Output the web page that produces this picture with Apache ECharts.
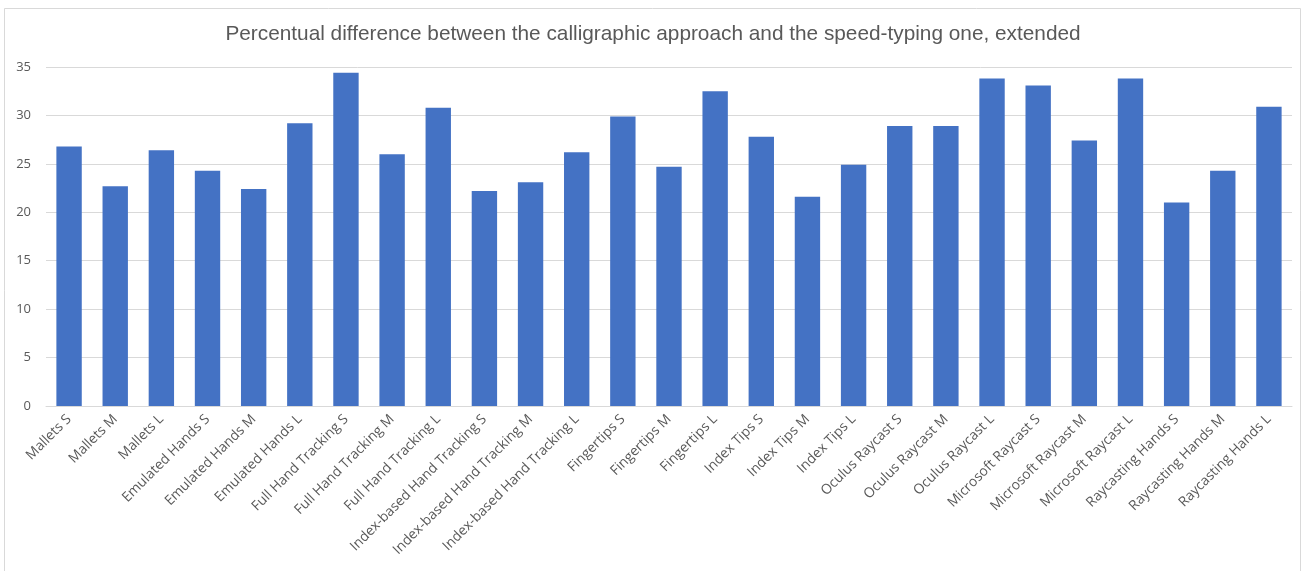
<!DOCTYPE html>
<html>
<head>
<meta charset="utf-8">
<script src="https://cdn.jsdelivr.net/npm/echarts@6/dist/echarts.min.js"></script>
<style>
  html, body { margin: 0; padding: 0; background: #fff; }
  #chart { width: 1306px; height: 571px; }
</style>
</head>
<body>
<div id="chart"></div>
<script>
// Interaction techniques with S / M / L target sizes
const categories = [
  'Mallets S', 'Mallets M', 'Mallets L',
  'Emulated Hands S', 'Emulated Hands M', 'Emulated Hands L',
  'Full Hand Tracking S', 'Full Hand Tracking M', 'Full Hand Tracking L',
  'Index-based Hand Tracking S', 'Index-based Hand Tracking M', 'Index-based Hand Tracking L',
  'Fingertips S', 'Fingertips M', 'Fingertips L',
  'Index Tips S', 'Index Tips M', 'Index Tips L',
  'Oculus Raycast S', 'Oculus Raycast M', 'Oculus Raycast L',
  'Microsoft Raycast S', 'Microsoft Raycast M', 'Microsoft Raycast L',
  'Raycasting Hands S', 'Raycasting Hands M', 'Raycasting Hands L'
];

// Percentual difference (calligraphic vs speed-typing)
const differences = [
  26.8, 22.7, 26.4,
  24.3, 22.4, 29.2,
  34.4, 26.0, 30.8,
  22.2, 23.1, 26.2,
  29.9, 24.7, 32.5,
  27.8, 21.6, 24.9,
  28.9, 28.9, 33.8,
  33.1, 27.4, 33.8,
  21.0, 24.3, 30.9
];

const yTicks = { min: 0, max: 35, interval: 5 };

const chart = echarts.init(document.getElementById('chart'), null, { renderer: 'canvas' });

chart.setOption({
  animation: false,
  backgroundColor: '#ffffff',
  title: {
    text: 'Percentual difference between the calligraphic approach and the speed-typing one, extended',
    left: 'center',
    top: 19,
    textStyle: {
      fontFamily: 'Liberation Sans, Arial, sans-serif',
      fontSize: 20.8,
      fontWeight: 'normal',
      color: '#595959'
    }
  },
  graphic: [{
    type: 'rect',
    shape: { x: 4.5, y: 8.5, width: 1296, height: 580 },
    style: { fill: 'none', stroke: '#d9d9d9', lineWidth: 1 },
    silent: true,
    z: -1
  }],
  grid: {
    left: 46,
    right: 14,
    top: 67,
    bottom: 165,
    containLabel: false
  },
  xAxis: {
    type: 'category',
    data: categories,
    axisLine: { show: true, lineStyle: { color: '#d9d9d9', width: 1 } },
    axisTick: { show: false },
    axisLabel: {
      interval: 0,
      rotate: 45,
      margin: 11,
      color: '#595959',
      fontSize: 13.8,
      fontFamily: 'Open Sans, Liberation Sans, sans-serif'
    }
  },
  yAxis: {
    type: 'value',
    min: yTicks.min,
    max: yTicks.max,
    interval: yTicks.interval,
    axisLine: { show: false },
    axisTick: { show: false },
    splitLine: { lineStyle: { color: '#d9d9d9', width: 1 } },
    axisLabel: {
      margin: 15,
      color: '#595959',
      fontSize: 13,
      fontFamily: 'Open Sans, Liberation Sans, sans-serif'
    }
  },
  series: [{
    type: 'bar',
    data: differences,
    barWidth: '55%',
    itemStyle: { color: '#4472c4' }
  }]
});
</script>
</body>
</html>
